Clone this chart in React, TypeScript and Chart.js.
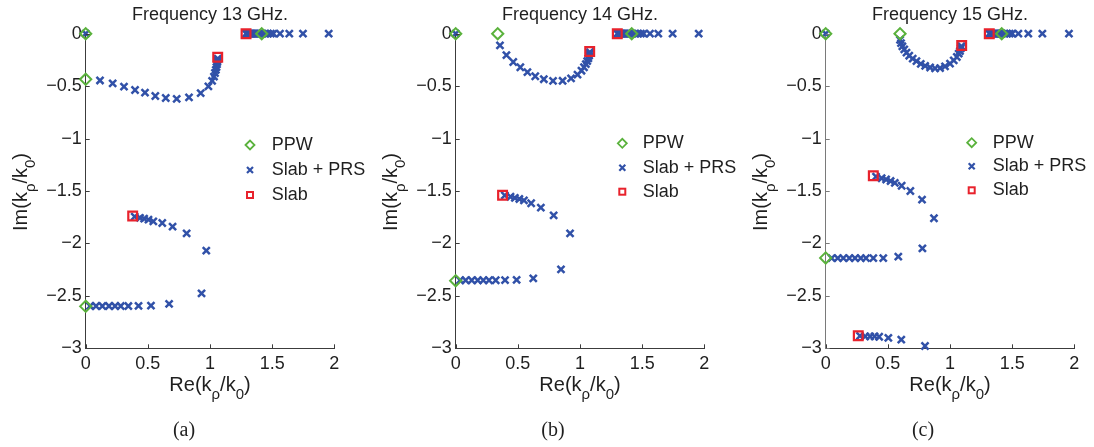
import React, { useEffect, useRef } from 'react';
import { Chart, registerables } from 'chart.js';

Chart.register(...registerables);

type Pt = [number, number];

// ---------- Frequency 13 GHz ----------
const ppw13: Pt[] = [[0, 0], [0, -0.435], [0, -2.6], [1.416, 0]];
const slab13: Pt[] = [[1.29, 0], [1.062, -0.225], [0.378, -1.738]];
const slabPrs13: Pt[] = [
  [0, 0],
  [1.29, 0], [1.295, 0], [1.3, 0], [1.31, 0], [1.32, 0], [1.33, 0], [1.34, 0], [1.35, 0], [1.36, 0],
  [1.37, 0], [1.38, 0], [1.39, 0], [1.4, 0], [1.42, 0], [1.44, 0], [1.465, 0], [1.49, 0], [1.51, 0],
  [1.563, 0], [1.638, 0], [1.748, 0], [1.955, 0],
  [0.115, -0.446], [0.217, -0.473], [0.308, -0.505], [0.397, -0.537], [0.477, -0.562], [0.56, -0.594],
  [0.644, -0.613], [0.732, -0.622], [0.831, -0.607], [0.925, -0.567], [0.987, -0.502], [1.017, -0.45],
  [1.032, -0.41], [1.04, -0.375], [1.047, -0.345], [1.052, -0.318], [1.056, -0.293], [1.059, -0.27],
  [1.061, -0.252], [1.062, -0.237],
  [0.394, -1.745], [0.437, -1.757], [0.47, -1.764], [0.505, -1.773], [0.544, -1.789], [0.616, -1.805],
  [0.699, -1.84], [0.812, -1.904], [0.97, -2.069],
  [0.932, -2.476], [0.671, -2.577], [0.525, -2.593], [0.425, -2.596], [0.343, -2.597], [0.282, -2.597],
  [0.236, -2.597], [0.187, -2.597], [0.134, -2.597], [0.083, -2.597], [0.035, -2.597],
];

// ---------- Frequency 14 GHz ----------
const ppw14: Pt[] = [[0, 0], [0.338, 0], [0, -2.355], [1.416, 0]];
const slab14: Pt[] = [[1.3, 0], [1.078, -0.17], [0.377, -1.54]];
const slabPrs14: Pt[] = [
  [0, 0],
  [1.3, 0], [1.305, 0], [1.31, 0], [1.32, 0], [1.33, 0], [1.34, 0], [1.35, 0], [1.36, 0], [1.37, 0],
  [1.38, 0], [1.39, 0], [1.4, 0], [1.42, 0], [1.44, 0], [1.465, 0], [1.49, 0], [1.512, 0],
  [1.563, 0], [1.63, 0], [1.745, 0], [1.955, 0],
  [0.356, -0.112], [0.408, -0.205], [0.463, -0.27], [0.52, -0.32], [0.577, -0.367], [0.64, -0.406],
  [0.709, -0.434], [0.783, -0.45], [0.86, -0.449], [0.928, -0.426], [0.98, -0.39], [1.012, -0.353],
  [1.032, -0.32], [1.047, -0.29], [1.058, -0.262], [1.067, -0.235], [1.073, -0.21], [1.077, -0.19],
  [1.079, -0.176],
  [0.395, -1.542], [0.441, -1.555], [0.476, -1.566], [0.512, -1.576], [0.549, -1.589], [0.607, -1.617],
  [0.685, -1.659], [0.788, -1.733], [0.92, -1.904],
  [0.847, -2.247], [0.624, -2.333], [0.49, -2.348], [0.397, -2.35], [0.322, -2.351], [0.268, -2.351],
  [0.222, -2.351], [0.177, -2.351], [0.129, -2.351], [0.08, -2.351], [0.035, -2.351],
];

// ---------- Frequency 15 GHz ----------
const ppw15: Pt[] = [[0, 0], [0.598, 0], [0, -2.138], [1.416, 0]];
const slab15: Pt[] = [[1.316, 0], [1.094, -0.113], [0.383, -1.355], [0.262, -2.88]];
const slabPrs15: Pt[] = [
  [0, 0],
  [1.316, 0], [1.32, 0], [1.33, 0], [1.34, 0], [1.35, 0], [1.36, 0], [1.37, 0], [1.38, 0], [1.39, 0],
  [1.4, 0], [1.41, 0], [1.42, 0], [1.44, 0], [1.46, 0], [1.48, 0], [1.5, 0], [1.55, 0], [1.63, 0],
  [1.743, 0], [1.957, 0],
  [0.598, -0.058], [0.606, -0.09], [0.617, -0.12], [0.632, -0.15], [0.65, -0.18], [0.672, -0.21],
  [0.7, -0.237], [0.73, -0.262], [0.765, -0.287], [0.8, -0.307], [0.84, -0.322], [0.88, -0.33],
  [0.92, -0.328], [0.96, -0.312], [1.0, -0.285], [1.03, -0.255], [1.055, -0.222], [1.07, -0.19],
  [1.08, -0.165], [1.087, -0.14], [1.092, -0.12],
  [0.405, -1.363], [0.45, -1.378], [0.486, -1.39], [0.522, -1.405], [0.556, -1.422], [0.611, -1.45],
  [0.681, -1.5], [0.775, -1.582], [0.871, -1.76],
  [0.778, -2.047], [0.584, -2.126], [0.463, -2.14], [0.383, -2.14], [0.324, -2.14], [0.282, -2.14],
  [0.236, -2.14], [0.19, -2.14], [0.142, -2.14], [0.097, -2.14], [0.048, -2.14],
  [0.276, -2.882], [0.318, -2.886], [0.357, -2.886], [0.393, -2.887], [0.43, -2.89], [0.504, -2.9],
  [0.608, -2.917], [0.799, -2.978],
];

const xTicks = [0, 0.5, 1, 1.5, 2];
const yTicks = [0, -0.5, -1, -1.5, -2, -2.5, -3];
const titles = ['Frequency 13 GHz.', 'Frequency 14 GHz.', 'Frequency 15 GHz.'];
const captions = ['(a)', '(b)', '(c)'];
const legendLabels = ['PPW', 'Slab + PRS', 'Slab'];

// ---------- styles / layout ----------
const W = 1094;
const H = 447;
const GREEN = '#5ab23c';
const BLUE = '#3151a8';
const RED = '#e8222c';
const TEXT = '#1f1f1f';
const SANS = '"Liberation Sans", Arial, Helvetica, sans-serif';
const SERIF = '"Liberation Serif", "Times New Roman", serif';
const PLOT_TOP = 33.7;
const PLOT_BOTTOM = 348.3;
const PLOT_W = 248.6;
const Y_AXIS_W = 60;

const panelData = [
  { ppw: ppw13, prs: slabPrs13, slab: slab13 },
  { ppw: ppw14, prs: slabPrs14, slab: slab14 },
  { ppw: ppw15, prs: slabPrs15, slab: slab15 },
];
const panelLayout = [
  { left: 85.7, legX: 164.3, legTextX: 186, legY: [145, 170, 195], capX: 184, axisY: '#3c3c3c' },
  { left: 455.7, legX: 166.6, legTextX: 187, legY: [143.3, 167.7, 191.7], capX: 553, axisY: '#3c3c3c' },
  { left: 825.7, legX: 146, legTextX: 167, legY: [142.7, 166.3, 190.3], capX: 923, axisY: '#7a7a7a' },
];

type Part = { t: string; sub?: boolean };
const xLabelParts: Part[] = [{ t: 'Re(k' }, { t: 'ρ', sub: true }, { t: '/k' }, { t: '0', sub: true }, { t: ')' }];
const yLabelParts: Part[] = [{ t: 'Im(k' }, { t: 'ρ', sub: true }, { t: '/k' }, { t: '0', sub: true }, { t: ')' }];

function drawParts(ctx: CanvasRenderingContext2D, parts: Part[], cx: number, by: number) {
  const main = `20px ${SANS}`;
  const sub = `15px ${SANS}`;
  let total = 0;
  for (const p of parts) {
    ctx.font = p.sub ? sub : main;
    total += ctx.measureText(p.t).width;
  }
  let x = cx - total / 2;
  ctx.textAlign = 'left';
  ctx.textBaseline = 'alphabetic';
  for (const p of parts) {
    ctx.font = p.sub ? sub : main;
    ctx.fillText(p.t, x, p.sub ? by + 8 : by);
    x += ctx.measureText(p.t).width;
  }
}

function fmt(v: number) {
  const r = Math.round(v * 10) / 10;
  if (r === 0) return '0';
  return r < 0 ? '\u2212' + String(Math.abs(r)) : String(r);
}

function makeDecor(i: number) {
  const lay = panelLayout[i];
  return {
    id: 'decor' + i,
    afterDraw(chart: any) {
      const ctx: CanvasRenderingContext2D = chart.ctx;
      const { left, right, top, bottom } = chart.chartArea;
      const xs = chart.scales.x;
      const ys = chart.scales.y;
      ctx.save();
      // inward ticks
      ctx.lineWidth = 1;
      ctx.strokeStyle = lay.axisY;
      for (const v of yTicks) {
        const py = Math.round(ys.getPixelForValue(v)) + 0.5;
        ctx.beginPath();
        ctx.moveTo(left, py);
        ctx.lineTo(left + 4, py);
        ctx.stroke();
      }
      ctx.strokeStyle = '#3c3c3c';
      for (const v of xTicks) {
        const px = Math.round(xs.getPixelForValue(v)) + 0.5;
        ctx.beginPath();
        ctx.moveTo(px, bottom);
        ctx.lineTo(px, bottom - 4);
        ctx.stroke();
      }
      const cx = (left + right) / 2;
      ctx.fillStyle = TEXT;
      // title
      ctx.font = `18px ${SANS}`;
      ctx.textAlign = 'center';
      ctx.textBaseline = 'alphabetic';
      ctx.fillText(titles[i], cx, 19.5);
      // x label
      drawParts(ctx, xLabelParts, cx, 390.5);
      // y label (rotated)
      ctx.save();
      ctx.translate(left - 59, (top + bottom) / 2 + 1);
      ctx.rotate(-Math.PI / 2);
      drawParts(ctx, yLabelParts, 0, 0);
      ctx.restore();
      // caption
      ctx.fillStyle = TEXT;
      ctx.font = `20px ${SERIF}`;
      ctx.textAlign = 'center';
      ctx.fillText(captions[i], lay.capX, 436);
      // legend
      const mx = left + lay.legX;
      const [y0, y1, y2] = lay.legY;
      ctx.lineWidth = 1.8;
      ctx.strokeStyle = GREEN;
      ctx.beginPath();
      ctx.moveTo(mx - 4.5, y0);
      ctx.lineTo(mx, y0 - 4.5);
      ctx.lineTo(mx + 4.5, y0);
      ctx.lineTo(mx, y0 + 4.5);
      ctx.closePath();
      ctx.stroke();
      ctx.strokeStyle = BLUE;
      ctx.lineWidth = 2.2;
      ctx.beginPath();
      ctx.moveTo(mx - 3, y1 - 3);
      ctx.lineTo(mx + 3, y1 + 3);
      ctx.moveTo(mx + 3, y1 - 3);
      ctx.lineTo(mx - 3, y1 + 3);
      ctx.stroke();
      ctx.strokeStyle = RED;
      ctx.lineWidth = 2;
      ctx.strokeRect(mx - 3, y2 - 3, 6, 6);
      ctx.fillStyle = TEXT;
      ctx.font = `18px ${SANS}`;
      ctx.textAlign = 'left';
      ctx.textBaseline = 'middle';
      const tx = left + lay.legTextX;
      ctx.fillText(legendLabels[0], tx, y0);
      ctx.fillText(legendLabels[1], tx, y1);
      ctx.fillText(legendLabels[2], tx, y2);
      ctx.restore();
    },
  };
}

function toXY(a: Pt[]) {
  return a.map(([x, y]) => ({ x, y }));
}

function Panel({ index }: { index: number }) {
  const ref = useRef<HTMLCanvasElement | null>(null);
  useEffect(() => {
    if (!ref.current) return;
    const d = panelData[index];
    const lay = panelLayout[index];
    const tickFont = { family: SANS, size: 18 };
    const chart = new Chart(ref.current, {
      type: 'scatter',
      data: {
        datasets: [
          {
            label: legendLabels[2],
            data: toXY(d.slab),
            pointStyle: 'rect',
            pointRadius: 6.2,
            borderColor: RED,
            backgroundColor: 'rgba(0,0,0,0)',
            borderWidth: 2.2,
            order: 0,
            clip: false,
          },
          {
            label: legendLabels[0],
            data: toXY(d.ppw),
            pointStyle: 'rectRot',
            pointRadius: 5.6,
            borderColor: GREEN,
            backgroundColor: 'rgba(0,0,0,0)',
            borderWidth: 2,
            order: 1,
            clip: false,
          },
          {
            label: legendLabels[1],
            data: toXY(d.prs),
            pointStyle: 'crossRot',
            pointRadius: 5,
            borderColor: BLUE,
            backgroundColor: BLUE,
            borderWidth: 2.5,
            order: 2,
            clip: false,
          },
        ],
      } as any,
      options: {
        animation: false,
        responsive: false,
        maintainAspectRatio: false,
        events: [],
        layout: {
          padding: {
            left: lay.left - Y_AXIS_W,
            right: W - (lay.left + PLOT_W),
            top: PLOT_TOP,
            bottom: 0,
          },
        },
        scales: {
          x: {
            type: 'linear',
            min: 0,
            max: 2,
            afterFit: (s: any) => {
              s.height = H - PLOT_BOTTOM;
            },
            afterBuildTicks: (s: any) => {
              s.ticks = xTicks.map((v) => ({ value: v }));
            },
            ticks: {
              font: tickFont,
              color: TEXT,
              padding: 5,
              maxRotation: 0,
              autoSkip: false,
              callback: (v: any) => fmt(Number(v)),
            },
            grid: { display: false, drawTicks: false },
            border: { display: true, color: '#3c3c3c', width: 1 },
          },
          y: {
            type: 'linear',
            min: -3,
            max: 0,
            afterFit: (s: any) => {
              s.width = Y_AXIS_W;
            },
            afterBuildTicks: (s: any) => {
              s.ticks = yTicks.map((v) => ({ value: v }));
            },
            ticks: {
              font: tickFont,
              color: TEXT,
              padding: 4,
              autoSkip: false,
              callback: (v: any) => fmt(Number(v)),
            },
            grid: { display: false, drawTicks: false },
            border: { display: true, color: lay.axisY, width: 1 },
          },
        },
        plugins: {
          legend: { display: false },
          tooltip: { enabled: false },
          title: { display: false },
        },
      } as any,
      plugins: [makeDecor(index)],
    });
    return () => chart.destroy();
  }, [index]);
  return (
    <canvas
      ref={ref}
      width={W}
      height={H}
      style={{ position: 'absolute', left: 0, top: 0, width: W, height: H, display: 'block' }}
    />
  );
}

export default function App() {
  return (
    <div
      style={{
        position: 'fixed',
        left: 0,
        top: 0,
        width: W,
        height: H,
        background: '#ffffff',
        overflow: 'hidden',
      }}
    >
      <Panel index={0} />
      <Panel index={1} />
      <Panel index={2} />
    </div>
  );
}
